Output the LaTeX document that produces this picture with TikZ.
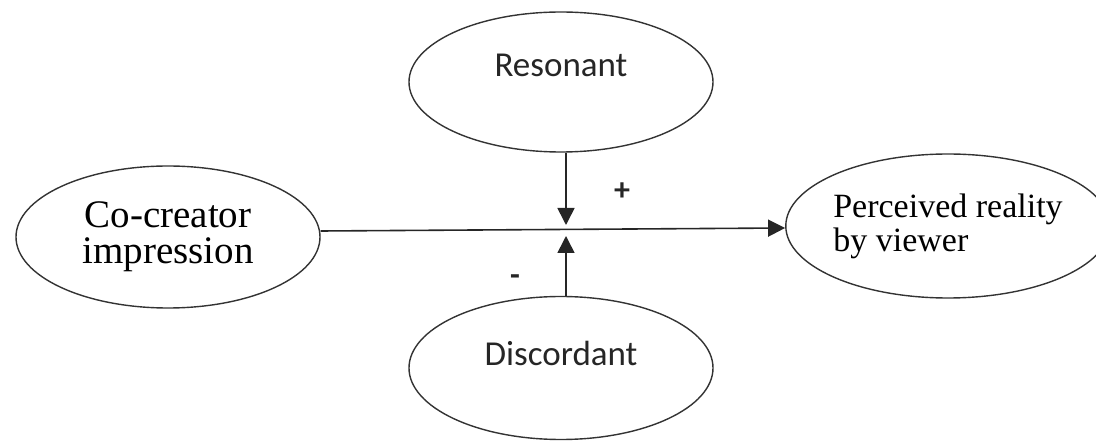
\documentclass[tikz,border=0pt]{standalone}
\usepackage{fontspec}
\setmainfont{Liberation Serif}
\newfontfamily\calibri{Carlito}
\usetikzlibrary{shapes.geometric,arrows.meta}

\begin{document}
\begin{tikzpicture}[
    x=1pt, y=1pt,
    % Estilo das elipses do modelo
    elipse/.style={ellipse, draw=black!80, line width=1.4pt, inner sep=0pt},
    % Estilo das setas (ponta triangular cheia)
    seta/.style={-{Triangle[length=17pt, width=17pt]}, draw=black!85, line width=1.6pt},
    % Estilo dos sinais + e -
    sinal/.style={font=\calibri\bfseries\fontsize{32}{32}\selectfont, text=black!85}
]
    \useasboundingbox (0,0) rectangle (1096,442);

    % ==========================================
    % 1. ELIPSES (Coordenadas em pixels da figura)
    % ==========================================
    \node[elipse, minimum width=304pt, minimum height=142pt,
          font=\fontsize{39}{36}\selectfont, align=center, xshift=5pt]
        (cocriador) at (163, 205) {Co-creator\\impression};
    \node[elipse, minimum width=296pt, minimum height=144pt,
          font=\fontsize{34}{34}\selectfont, align=left]
        (percebida) at (948, 216) {Perceived reality\\by viewer};
    \node[elipse, minimum width=304pt, minimum height=140pt,
          label={[yshift=17pt, font=\calibri\fontsize{35}{35}\selectfont, text=black!85]center:Resonant}]
        (ressonante) at (561, 360) {};
    \node[elipse, minimum width=304pt, minimum height=143pt,
          label={[yshift=15pt, font=\calibri\fontsize{35}{35}\selectfont, text=black!85]center:Discordant}]
        (dissonante) at (561, 74) {};

    % Ponto onde as setas moderadoras encontram a seta principal
    \coordinate (cruz) at (566, 212);

    % ==========================================
    % 2. SETAS
    % ==========================================
    % Seta principal (da impressao para a realidade percebida)
    \draw[seta] ([yshift=6pt]cocriador.east) -- ([yshift=-2pt]percebida.west);
    % Moderadores: de cima (+) e de baixo (-)
    \draw[seta] (ressonante.south -| cruz) -- ([yshift=5pt]cruz);
    \draw[seta] (dissonante.north -| cruz) -- ([yshift=-6pt]cruz);

    % Sinais
    \node[sinal] (mais) at (622, 250) {+};
    \node[sinal] (menos) at (515, 162) {-};

\end{tikzpicture}
\end{document}
